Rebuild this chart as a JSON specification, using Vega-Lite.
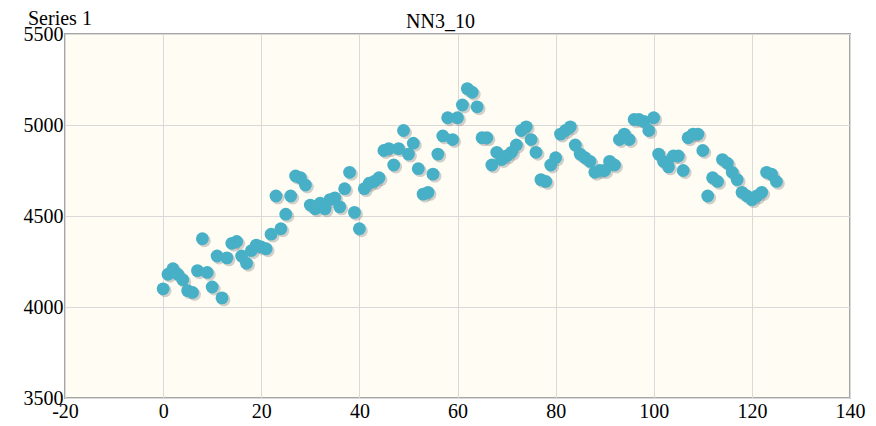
{
  "$schema": "https://vega.github.io/schema/vega-lite/v6.json",
  "width": 785,
  "height": 364,
  "autosize": "none",
  "padding": {"left": 65, "top": 34, "right": 26, "bottom": 28},
  "background": "white",
  "title": {"text": "NN3_10", "anchor": "middle", "font": "Liberation Serif", "fontSize": 20, "fontWeight": "normal", "color": "black", "offset": -23, "dx": -17},
  "config": {
    "view": {"fill": "#fffcf3", "stroke": "#a6a6a6", "strokeWidth": 2},
    "axis": {"labelFont": "Liberation Serif", "labelFontSize": 20, "labelColor": "black", "gridColor": "#d9d9d9", "gridWidth": 1, "domain": false, "ticks": false, "title": null, "labelOverlap": false, "labelBound": false, "labelFlush": false, "labelExpr": "datum.value + ''"}
  },
  "data": {"values": [
    {"t":0,"v":4100},{"t":1,"v":4180},{"t":2,"v":4210},{"t":3,"v":4180},{"t":4,"v":4150},{"t":5,"v":4090},{"t":6,"v":4080},{"t":7,"v":4200},{"t":8,"v":4375},{"t":9,"v":4190},
    {"t":10,"v":4110},{"t":11,"v":4280},{"t":12,"v":4050},{"t":13,"v":4270},{"t":14,"v":4350},{"t":15,"v":4360},{"t":16,"v":4280},{"t":17,"v":4240},{"t":18,"v":4310},{"t":19,"v":4340},
    {"t":20,"v":4330},{"t":21,"v":4320},{"t":22,"v":4400},{"t":23,"v":4610},{"t":24,"v":4430},{"t":25,"v":4510},{"t":26,"v":4610},{"t":27,"v":4720},{"t":28,"v":4710},{"t":29,"v":4670},
    {"t":30,"v":4560},{"t":31,"v":4540},{"t":32,"v":4570},{"t":33,"v":4540},{"t":34,"v":4590},{"t":35,"v":4600},{"t":36,"v":4550},{"t":37,"v":4650},{"t":38,"v":4740},{"t":39,"v":4520},
    {"t":40,"v":4430},{"t":41,"v":4650},{"t":42,"v":4680},{"t":43,"v":4690},{"t":44,"v":4710},{"t":45,"v":4860},{"t":46,"v":4870},{"t":47,"v":4780},{"t":48,"v":4870},{"t":49,"v":4970},
    {"t":50,"v":4840},{"t":51,"v":4900},{"t":52,"v":4760},{"t":53,"v":4620},{"t":54,"v":4630},{"t":55,"v":4730},{"t":56,"v":4840},{"t":57,"v":4940},{"t":58,"v":5040},{"t":59,"v":4920},
    {"t":60,"v":5040},{"t":61,"v":5110},{"t":62,"v":5200},{"t":63,"v":5180},{"t":64,"v":5100},{"t":65,"v":4930},{"t":66,"v":4930},{"t":67,"v":4780},{"t":68,"v":4850},{"t":69,"v":4810},
    {"t":70,"v":4830},{"t":71,"v":4850},{"t":72,"v":4890},{"t":73,"v":4970},{"t":74,"v":4990},{"t":75,"v":4920},{"t":76,"v":4850},{"t":77,"v":4700},{"t":78,"v":4690},{"t":79,"v":4780},
    {"t":80,"v":4820},{"t":81,"v":4950},{"t":82,"v":4970},{"t":83,"v":4990},{"t":84,"v":4890},{"t":85,"v":4840},{"t":86,"v":4820},{"t":87,"v":4800},{"t":88,"v":4740},{"t":89,"v":4750},
    {"t":90,"v":4750},{"t":91,"v":4800},{"t":92,"v":4780},{"t":93,"v":4920},{"t":94,"v":4950},{"t":95,"v":4920},{"t":96,"v":5030},{"t":97,"v":5030},{"t":98,"v":5020},{"t":99,"v":4970},
    {"t":100,"v":5040},{"t":101,"v":4840},{"t":102,"v":4800},{"t":103,"v":4770},{"t":104,"v":4830},{"t":105,"v":4830},{"t":106,"v":4750},{"t":107,"v":4930},{"t":108,"v":4950},{"t":109,"v":4950},
    {"t":110,"v":4860},{"t":111,"v":4610},{"t":112,"v":4710},{"t":113,"v":4690},{"t":114,"v":4810},{"t":115,"v":4790},{"t":116,"v":4740},{"t":117,"v":4700},{"t":118,"v":4630},{"t":119,"v":4610},
    {"t":120,"v":4590},{"t":121,"v":4610},{"t":122,"v":4630},{"t":123,"v":4740},{"t":124,"v":4730},{"t":125,"v":4690}
  ]},
  "encoding": {
    "x": {"field": "t", "type": "quantitative", "scale": {"domain": [-20, 140], "nice": false, "zero": false}, "axis": {"values": [-20, 0, 20, 40, 60, 80, 100, 120, 140], "labelPadding": 3}},
    "y": {"field": "v", "type": "quantitative", "scale": {"domain": [3500, 5500], "nice": false, "zero": false}, "axis": {"values": [3500, 4000, 4500, 5000, 5500], "labelPadding": 2}}
  },
  "layer": [
    {"mark": {"type": "point", "filled": true, "size": 165, "color": "#7a7a7a", "opacity": 0.35, "xOffset": 2, "yOffset": 2}},
    {"mark": {"type": "point", "filled": true, "size": 165, "opacity": 1},
     "encoding": {"color": {"datum": "Series 1", "type": "nominal", "scale": {"range": ["#47b0c6"]},
       "legend": {"orient": "none", "legendX": -57, "legendY": -25, "title": null, "symbolSize": 0, "symbolOpacity": 0, "symbolStrokeWidth": 0, "labelFont": "Liberation Serif", "labelFontSize": 20, "labelColor": "black", "labelOffset": 0, "columnPadding": 0}}}}
  ]
}
